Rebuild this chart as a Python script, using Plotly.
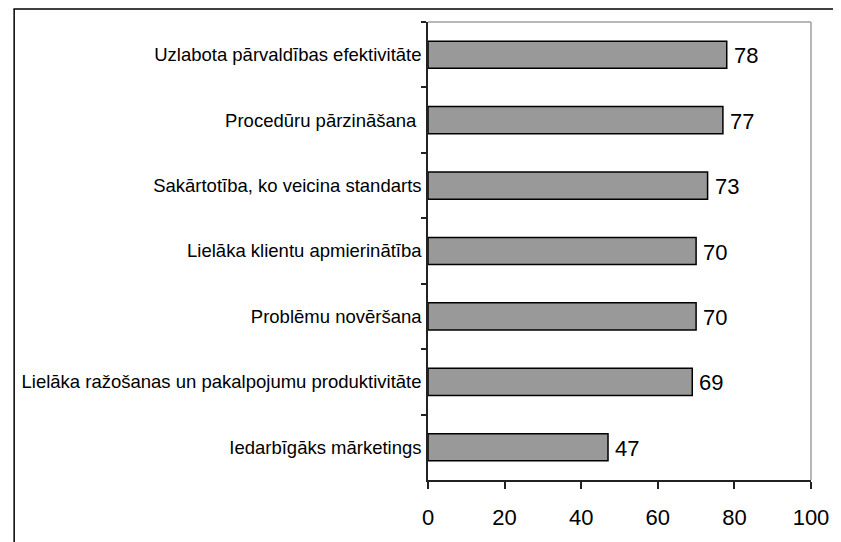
import plotly.graph_objects as go

# ── data ──────────────────────────────────────────
categories = [
    'Uzlabota pārvaldības efektivitāte',
    'Procedūru pārzināšana ',
    'Sakārtotība, ko veicina standarts',
    'Lielāka klientu apmierinātība',
    'Problēmu novēršana',
    'Lielāka ražošanas un pakalpojumu produktivitāte',
    'Iedarbīgāks mārketings',
]
values = [78, 77, 73, 70, 70, 69, 47]
x_ticks = [0, 20, 40, 60, 80, 100]

FONT = 'Liberation Sans, Arial, sans-serif'

# page body has an 8px margin, so the figure is 8px smaller than the window
FIG_W, FIG_H = 833, 534
L, T, R, B = 420, 14, 25, 62

fig = go.Figure(
    go.Bar(
        x=values, y=categories, orientation='h',
        marker=dict(color='#999999', line=dict(color='#000000', width=1.5)),
    )
)

# value labels just past the bar ends
for c, v in zip(categories, values):
    fig.add_annotation(x=v, y=c, text=str(v), showarrow=False,
                       xanchor='left', xshift=5, yshift=-1,
                       font=dict(family=FONT, size=22, color='#000000'))

fig.update_layout(
    width=FIG_W, height=FIG_H,
    margin=dict(l=L, r=R, t=T, b=B),
    paper_bgcolor='white', plot_bgcolor='white',
    bargap=0.585, showlegend=False,
    font=dict(family=FONT, color='#000000'),
)

fig.update_xaxes(
    range=[0, 100], tickvals=x_ticks, showgrid=False, zeroline=False,
    showline=True, linecolor='#222222', linewidth=1.5,
    ticks='outside', ticklen=7, tickcolor='#222222', tickwidth=1.5,
    tickfont=dict(size=22), ticklabelstandoff=10,
)
fig.update_yaxes(
    autorange='reversed', showgrid=False, zeroline=False,
    showline=True, linecolor='#222222', linewidth=1.5,
    ticks='outside', ticklen=5, tickcolor='#222222', tickwidth=1.5,
    tickson='boundaries', tickfont=dict(size=18.5), ticklabelstandoff=1,
)

# plot-area frame (gray, top and right) and outer frame (black, top and left)
W = FIG_W - L - R
H = FIG_H - T - B
px = lambda v: (v - L) / W
py = lambda v: (FIG_H - B - v) / H
gray = dict(color='#a0a0a0', width=1.5)
black = dict(color='#000000', width=1.5)
fig.add_shape(type='line', xref='paper', yref='paper', x0=0, x1=1, y0=1, y1=1, line=gray)
fig.add_shape(type='line', xref='paper', yref='paper', x0=1, x1=1, y0=0, y1=1, line=gray)
fig.add_shape(type='line', xref='paper', yref='paper', x0=px(0), x1=px(FIG_W + 5),
              y0=py(1), y1=py(1), line=black)
fig.add_shape(type='line', xref='paper', yref='paper', x0=px(0.75), x1=px(0.75),
              y0=py(1), y1=py(FIG_H + 5), line=black)

fig.write_html('out.html')
